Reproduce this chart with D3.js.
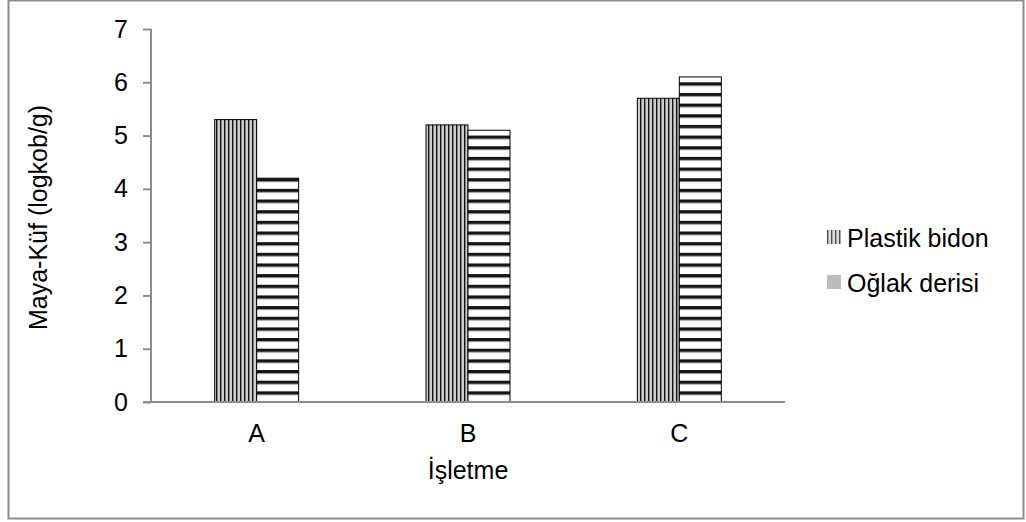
<!DOCTYPE html>
<html>
<head>
<meta charset="utf-8">
<script src="https://cdn.jsdelivr.net/npm/d3@7"></script>
<style>
  body { margin: 0; background: #fff; }
  text { font-family: "Liberation Sans", Arial, sans-serif; fill: #000; }
</style>
</head>
<body>
<script>
  const categories = ['A', 'B', 'C'];
  const seriesNames = ['Plastik bidon', 'Oğlak derisi'];
  const plastikBidon = [5.3, 5.2, 5.7];
  const oglakDerisi = [4.2, 5.1, 6.1];
  const yTicks = [0, 1, 2, 3, 4, 5, 6, 7];

  const width = 1026;
  const height = 522;
  const margin = { top: 29, right: 241, bottom: 120, left: 151 };

  const svg = d3.select('body')
    .append('svg')
    .attr('width', width)
    .attr('height', height);

  const defs = svg.append('defs');

  // vertical stripes
  const pv = defs.append('pattern')
    .attr('id', 'vstripe')
    .attr('patternUnits', 'userSpaceOnUse')
    .attr('width', 4)
    .attr('height', 4);
  pv.append('rect').attr('width', 4).attr('height', 4).attr('fill', '#fff');
  pv.append('rect').attr('x', 0).attr('width', 1.5).attr('height', 4).attr('fill', '#111');
  pv.append('rect').attr('x', 2.5).attr('width', 1).attr('height', 4).attr('fill', '#999');

  const y = d3.scaleLinear()
    .domain([0, 7])
    .range([height - margin.bottom, margin.top]);
  const unit = y(0) - y(1);

  // horizontal stripes
  const ph = defs.append('pattern')
    .attr('id', 'hstripe')
    .attr('patternUnits', 'userSpaceOnUse')
    .attr('width', 8)
    .attr('height', unit / 5)
    .attr('y', y(0));
  ph.append('rect').attr('width', 8).attr('height', unit / 5).attr('fill', '#fff');
  ph.append('rect').attr('y', 0).attr('width', 8).attr('height', 3).attr('fill', '#151515');
  ph.append('rect').attr('y', 3).attr('width', 8).attr('height', 1).attr('fill', '#888');

  // outer frame
  svg.append('rect')
    .attr('x', 8.5)
    .attr('y', 0.5)
    .attr('width', 1015)
    .attr('height', 518)
    .attr('fill', 'none')
    .attr('stroke', '#8c8c8c')
    .attr('stroke-width', 2);

  const x = d3.scaleBand()
    .domain(categories)
    .range([margin.left, width - margin.right]);

  const barW = 42;
  const data = categories.map((c, i) => ({ cat: c, vals: [plastikBidon[i], oglakDerisi[i]] }));
  const fills = ['url(#vstripe)', 'url(#hstripe)'];

  data.forEach((d) => {
    const cx = x(d.cat) + x.bandwidth() / 2;
    d.vals.forEach((v, j) => {
      svg.append('rect')
        .attr('x', cx - barW + j * barW)
        .attr('y', y(v))
        .attr('width', barW)
        .attr('height', y(0) - y(v))
        .attr('fill', fills[j])
        .attr('stroke', '#000')
        .attr('stroke-width', 1);
    });
  });

  // y axis
  const yAxis = svg.append('g')
    .attr('transform', `translate(${margin.left},0)`)
    .call(d3.axisLeft(y).tickValues(yTicks).tickSize(8).tickPadding(15).tickFormat(d3.format('d')));
  yAxis.selectAll('path, line').attr('stroke', '#8c8c8c').attr('stroke-width', 2);
  yAxis.select('.domain').attr('d', `M0,${y(7)}V${y(0)}`);
  yAxis.selectAll('text').attr('font-size', null).attr('font-family', null).style('font-size', '25px');

  // x axis
  const xAxis = svg.append('g')
    .attr('transform', `translate(0,${y(0)})`)
    .call(d3.axisBottom(x).tickSize(0).tickPadding(22));
  xAxis.select('.domain').attr('d', `M${margin.left - 8},0H${width - margin.right}`)
    .attr('stroke', '#8c8c8c').attr('stroke-width', 2);
  xAxis.selectAll('text').attr('font-family', null).style('font-size', '25px');

  svg.append('text')
    .attr('x', (margin.left + width - margin.right) / 2)
    .attr('y', 479)
    .attr('text-anchor', 'middle')
    .style('font-size', '25px')
    .text('İşletme');

  svg.append('text')
    .attr('transform', `translate(47,${(y(0) + y(7)) / 2 + 2}) rotate(-90)`)
    .attr('text-anchor', 'middle')
    .style('font-size', '25px')
    .text('Maya-Küf (logkob/g)');

  // legend
  const legend = svg.append('g').attr('transform', 'translate(827,230)');
  seriesNames.forEach((name, i) => {
    const g = legend.append('g').attr('transform', `translate(0,${i * 45})`);
    g.append('rect')
      .attr('width', 14)
      .attr('height', 14)
      .attr('fill', i === 0 ? 'url(#vstripe)' : '#a6a6a6')
      .attr('opacity', 0.75);
    g.append('text')
      .attr('x', 20)
      .attr('y', 17)
      .style('font-size', '25px')
      .text(name);
  });
</script>
</body>
</html>
